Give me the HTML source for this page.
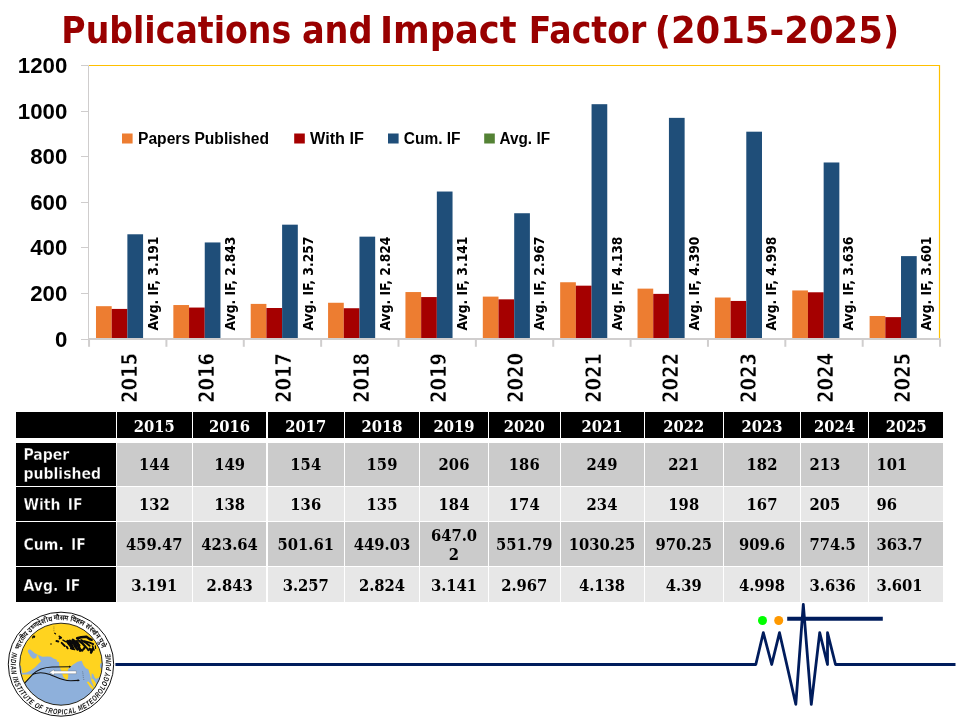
<!DOCTYPE html>
<html lang="en"><head><meta charset="utf-8"><title>Publications and Impact Factor (2015-2025)</title>
<style>
html,body{margin:0;padding:0;background:#fff}
body{width:960px;height:720px;position:relative;overflow:hidden}
svg{position:absolute;left:0;top:0}
.c{position:absolute;display:flex;align-items:center;justify-content:center;box-sizing:border-box;font:bold 16.4px/19px 'DejaVu Serif Condensed','DejaVu Serif',serif;color:#000;text-align:center}
.h{background:#000;color:#fff;padding-top:2px}
.a{background:#cbcbcb}
.b{background:#e7e7e7}
.r{background:#000;color:#fff;justify-content:flex-start;text-align:left;padding-left:7.1px;font:bold 15.6px/19px 'DejaVu Sans Condensed','DejaVu Sans',sans-serif;word-spacing:2.4px;-webkit-text-stroke:0.3px #000}
.l{justify-content:flex-start;text-align:left}

</style></head><body>
<svg width="960" height="720" viewBox="0 0 960 720" role="img" aria-label="Publications and Impact Factor chart">
<text font-family="'DejaVu Sans Condensed','DejaVu Sans',sans-serif" font-weight="bold" font-size="37.6" fill="#990000" transform="translate(0 42.5) scale(1 1.0005)"><tspan x="61.32" textLength="229.90" lengthAdjust="spacingAndGlyphs">Publications</tspan> <tspan x="301.90" textLength="70.70" lengthAdjust="spacingAndGlyphs">and</tspan> <tspan x="380.02" textLength="136.57" lengthAdjust="spacingAndGlyphs">Impact</tspan> <tspan x="528.85" textLength="117.47" lengthAdjust="spacingAndGlyphs">Factor</tspan> <tspan x="654.69" textLength="244.43" lengthAdjust="spacingAndGlyphs">(2015-2025)</tspan></text>
<g stroke="#cfcdcd" stroke-width="1" fill="none">
<path d="M88.5 65.5V339"/>
<path d="M81 65.5H88.5"/>
<path d="M81 111.5H88.5"/>
<path d="M81 156.5H88.5"/>
<path d="M81 202.5H88.5"/>
<path d="M81 247.5H88.5"/>
<path d="M81 293.5H88.5"/>
<path d="M81 339.5H88.5"/>
</g>
<g stroke="#ffc000" stroke-width="1.2" fill="none"><path d="M89 65.5H939.5V338"/></g>
<g stroke="#d0cece" stroke-width="2" fill="none"><path d="M88 339H940.6"/>
<path d="M89.05 339V346.8"/>
<path d="M166.41 339V346.8"/>
<path d="M243.78 339V346.8"/>
<path d="M321.14 339V346.8"/>
<path d="M398.50 339V346.8"/>
<path d="M475.87 339V346.8"/>
<path d="M553.23 339V346.8"/>
<path d="M630.60 339V346.8"/>
<path d="M707.96 339V346.8"/>
<path d="M785.32 339V346.8"/>
<path d="M862.69 339V346.8"/>
<path d="M940.05 339V346.8"/>
</g>
<rect x="95.98" y="306.18" width="15.70" height="31.82" fill="#ed7d31"/>
<rect x="111.68" y="308.92" width="15.70" height="29.08" fill="#a50000"/>
<rect x="127.38" y="234.28" width="15.70" height="103.72" fill="#1f4e79"/>
<rect x="173.35" y="305.04" width="15.70" height="32.96" fill="#ed7d31"/>
<rect x="189.05" y="307.55" width="15.70" height="30.45" fill="#a50000"/>
<rect x="204.75" y="242.45" width="15.70" height="95.55" fill="#1f4e79"/>
<rect x="250.71" y="303.90" width="15.70" height="34.10" fill="#ed7d31"/>
<rect x="266.41" y="308.00" width="15.70" height="30.00" fill="#a50000"/>
<rect x="282.11" y="224.67" width="15.70" height="113.33" fill="#1f4e79"/>
<rect x="328.07" y="302.76" width="15.70" height="35.24" fill="#ed7d31"/>
<rect x="343.77" y="308.23" width="15.70" height="29.77" fill="#a50000"/>
<rect x="359.47" y="236.66" width="15.70" height="101.34" fill="#1f4e79"/>
<rect x="405.44" y="292.05" width="15.70" height="45.95" fill="#ed7d31"/>
<rect x="421.14" y="297.06" width="15.70" height="40.94" fill="#a50000"/>
<rect x="436.84" y="191.53" width="15.70" height="146.47" fill="#1f4e79"/>
<rect x="482.80" y="296.61" width="15.70" height="41.39" fill="#ed7d31"/>
<rect x="498.50" y="299.34" width="15.70" height="38.66" fill="#a50000"/>
<rect x="514.20" y="213.24" width="15.70" height="124.76" fill="#1f4e79"/>
<rect x="560.16" y="282.25" width="15.70" height="55.75" fill="#ed7d31"/>
<rect x="575.86" y="285.67" width="15.70" height="52.33" fill="#a50000"/>
<rect x="591.56" y="104.19" width="15.70" height="233.81" fill="#1f4e79"/>
<rect x="637.53" y="288.63" width="15.70" height="49.37" fill="#ed7d31"/>
<rect x="653.23" y="293.87" width="15.70" height="44.13" fill="#a50000"/>
<rect x="668.93" y="117.86" width="15.70" height="220.14" fill="#1f4e79"/>
<rect x="714.89" y="297.52" width="15.70" height="40.48" fill="#ed7d31"/>
<rect x="730.59" y="300.94" width="15.70" height="37.06" fill="#a50000"/>
<rect x="746.29" y="131.69" width="15.70" height="206.31" fill="#1f4e79"/>
<rect x="792.25" y="290.45" width="15.70" height="47.55" fill="#ed7d31"/>
<rect x="807.95" y="292.28" width="15.70" height="45.72" fill="#a50000"/>
<rect x="823.65" y="162.48" width="15.70" height="175.52" fill="#1f4e79"/>
<rect x="869.62" y="315.98" width="15.70" height="22.02" fill="#ed7d31"/>
<rect x="885.32" y="317.12" width="15.70" height="20.88" fill="#a50000"/>
<rect x="901.02" y="256.11" width="15.70" height="81.89" fill="#1f4e79"/>
<g font-family="'Liberation Sans',sans-serif" font-weight="bold" font-size="21.3" fill="#000" text-anchor="end">
<text transform="translate(67.3 73.10) scale(1.045 1)">1200</text>
<text transform="translate(67.3 118.68) scale(1.045 1)">1000</text>
<text transform="translate(67.3 164.27) scale(1.045 1)">800</text>
<text transform="translate(67.3 209.85) scale(1.045 1)">600</text>
<text transform="translate(67.3 255.43) scale(1.045 1)">400</text>
<text transform="translate(67.3 301.02) scale(1.045 1)">200</text>
<text transform="translate(67.3 346.60) scale(1.045 1)">0</text>
</g>
<g font-family="'Liberation Sans',sans-serif" font-weight="bold" font-size="15.6" fill="#000">
<rect x="122.0" y="133.5" width="10.6" height="10" fill="#ed7d31"/>
<text x="138.0" y="143.8" textLength="131.0" lengthAdjust="spacingAndGlyphs">Papers Published</text>
<rect x="294.2" y="133.5" width="10.6" height="10" fill="#a50000"/>
<text x="310.0" y="143.8" textLength="53.8" lengthAdjust="spacingAndGlyphs">With IF</text>
<rect x="388.0" y="133.5" width="10.6" height="10" fill="#1f4e79"/>
<text x="403.8" y="143.8" textLength="56.8" lengthAdjust="spacingAndGlyphs">Cum. IF</text>
<rect x="484.2" y="133.5" width="10.6" height="10" fill="#548235"/>
<text x="499.5" y="143.8" textLength="50.5" lengthAdjust="spacingAndGlyphs">Avg. IF</text>
</g>
<g font-family="'DejaVu Sans Condensed','DejaVu Sans',sans-serif" font-weight="bold" font-size="13.75" fill="#000">
<text transform="translate(158.00 330.5) rotate(-90) scale(1 1.04)" textLength="93.98" lengthAdjust="spacingAndGlyphs">Avg. IF, 3.191</text>
<text transform="translate(235.27 330.5) rotate(-90) scale(1 1.04)" textLength="93.98" lengthAdjust="spacingAndGlyphs">Avg. IF, 2.843</text>
<text transform="translate(312.54 330.5) rotate(-90) scale(1 1.04)" textLength="93.98" lengthAdjust="spacingAndGlyphs">Avg. IF, 3.257</text>
<text transform="translate(389.81 330.5) rotate(-90) scale(1 1.04)" textLength="93.98" lengthAdjust="spacingAndGlyphs">Avg. IF, 2.824</text>
<text transform="translate(467.08 330.5) rotate(-90) scale(1 1.04)" textLength="93.98" lengthAdjust="spacingAndGlyphs">Avg. IF, 3.141</text>
<text transform="translate(544.35 330.5) rotate(-90) scale(1 1.04)" textLength="93.98" lengthAdjust="spacingAndGlyphs">Avg. IF, 2.967</text>
<text transform="translate(621.62 330.5) rotate(-90) scale(1 1.04)" textLength="93.98" lengthAdjust="spacingAndGlyphs">Avg. IF, 4.138</text>
<text transform="translate(698.90 330.5) rotate(-90) scale(1 1.04)" textLength="93.98" lengthAdjust="spacingAndGlyphs">Avg. IF, 4.390</text>
<text transform="translate(776.17 330.5) rotate(-90) scale(1 1.04)" textLength="93.98" lengthAdjust="spacingAndGlyphs">Avg. IF, 4.998</text>
<text transform="translate(853.44 330.5) rotate(-90) scale(1 1.04)" textLength="93.98" lengthAdjust="spacingAndGlyphs">Avg. IF, 3.636</text>
<text transform="translate(930.71 330.5) rotate(-90) scale(1 1.04)" textLength="93.98" lengthAdjust="spacingAndGlyphs">Avg. IF, 3.601</text>
</g>
<g font-family="'DejaVu Sans Condensed','DejaVu Sans',sans-serif" font-weight="bold" font-size="20" fill="#000" stroke="#fff" stroke-width="0.5">
<text transform="translate(136.60 403.1) rotate(-90) scale(1 1.077)" textLength="50.08" lengthAdjust="spacingAndGlyphs">2015</text>
<text transform="translate(213.96 403.1) rotate(-90) scale(1 1.077)" textLength="50.08" lengthAdjust="spacingAndGlyphs">2016</text>
<text transform="translate(291.33 403.1) rotate(-90) scale(1 1.077)" textLength="50.08" lengthAdjust="spacingAndGlyphs">2017</text>
<text transform="translate(368.69 403.1) rotate(-90) scale(1 1.077)" textLength="50.08" lengthAdjust="spacingAndGlyphs">2018</text>
<text transform="translate(446.05 403.1) rotate(-90) scale(1 1.077)" textLength="50.08" lengthAdjust="spacingAndGlyphs">2019</text>
<text transform="translate(523.42 403.1) rotate(-90) scale(1 1.077)" textLength="50.08" lengthAdjust="spacingAndGlyphs">2020</text>
<text transform="translate(600.78 403.1) rotate(-90) scale(1 1.077)" textLength="50.08" lengthAdjust="spacingAndGlyphs">2021</text>
<text transform="translate(678.15 403.1) rotate(-90) scale(1 1.077)" textLength="50.08" lengthAdjust="spacingAndGlyphs">2022</text>
<text transform="translate(755.51 403.1) rotate(-90) scale(1 1.077)" textLength="50.08" lengthAdjust="spacingAndGlyphs">2023</text>
<text transform="translate(832.87 403.1) rotate(-90) scale(1 1.077)" textLength="50.08" lengthAdjust="spacingAndGlyphs">2024</text>
<text transform="translate(910.24 403.1) rotate(-90) scale(1 1.077)" textLength="50.08" lengthAdjust="spacingAndGlyphs">2025</text>
</g>
</svg>
<div id="tbl"><div class="c r" style="left:16.4px;top:412.4px;width:99.5px;height:26.1px"></div>
<div class="c h" style="left:116.9px;top:412.4px;width:74.8px;height:26.1px">2015</div>
<div class="c h" style="left:192.7px;top:412.4px;width:73.8px;height:26.1px">2016</div>
<div class="c h" style="left:267.5px;top:412.4px;width:76.5px;height:26.1px">2017</div>
<div class="c h" style="left:345.0px;top:412.4px;width:74.0px;height:26.1px">2018</div>
<div class="c h" style="left:420.0px;top:412.4px;width:68.0px;height:26.1px">2019</div>
<div class="c h" style="left:489.0px;top:412.4px;width:70.5px;height:26.1px">2020</div>
<div class="c h" style="left:560.5px;top:412.4px;width:83.0px;height:26.1px">2021</div>
<div class="c h" style="left:644.5px;top:412.4px;width:78.5px;height:26.1px">2022</div>
<div class="c h" style="left:724.0px;top:412.4px;width:76.0px;height:26.1px">2023</div>
<div class="c h" style="left:801.0px;top:412.4px;width:67.0px;height:26.1px">2024</div>
<div class="c h" style="left:869.0px;top:412.4px;width:74.3px;height:26.1px">2025</div>
<div class="c r" style="left:16.4px;top:442.9px;width:99.5px;height:43.2px;padding-top:1.4px">Paper<br>published</div>
<div class="c a" style="left:116.9px;top:442.9px;width:74.8px;height:43.2px">144</div>
<div class="c a" style="left:192.7px;top:442.9px;width:73.8px;height:43.2px">149</div>
<div class="c a" style="left:267.5px;top:442.9px;width:76.5px;height:43.2px">154</div>
<div class="c a" style="left:345.0px;top:442.9px;width:74.0px;height:43.2px">159</div>
<div class="c a" style="left:420.0px;top:442.9px;width:68.0px;height:43.2px">206</div>
<div class="c a" style="left:489.0px;top:442.9px;width:70.5px;height:43.2px">186</div>
<div class="c a" style="left:560.5px;top:442.9px;width:83.0px;height:43.2px">249</div>
<div class="c a" style="left:644.5px;top:442.9px;width:78.5px;height:43.2px">221</div>
<div class="c a" style="left:724.0px;top:442.9px;width:76.0px;height:43.2px">182</div>
<div class="c a l" style="left:801.0px;top:442.9px;width:67.0px;height:43.2px;padding-left:8.6px">213</div>
<div class="c a l" style="left:869.0px;top:442.9px;width:74.3px;height:43.2px;padding-left:7.4px">101</div>
<div class="c r" style="left:16.4px;top:487.2px;width:99.5px;height:33.8px;padding-top:3.0px">With IF</div>
<div class="c b" style="left:116.9px;top:487.2px;width:74.8px;height:33.8px">132</div>
<div class="c b" style="left:192.7px;top:487.2px;width:73.8px;height:33.8px">138</div>
<div class="c b" style="left:267.5px;top:487.2px;width:76.5px;height:33.8px">136</div>
<div class="c b" style="left:345.0px;top:487.2px;width:74.0px;height:33.8px">135</div>
<div class="c b" style="left:420.0px;top:487.2px;width:68.0px;height:33.8px">184</div>
<div class="c b" style="left:489.0px;top:487.2px;width:70.5px;height:33.8px">174</div>
<div class="c b" style="left:560.5px;top:487.2px;width:83.0px;height:33.8px">234</div>
<div class="c b" style="left:644.5px;top:487.2px;width:78.5px;height:33.8px">198</div>
<div class="c b" style="left:724.0px;top:487.2px;width:76.0px;height:33.8px">167</div>
<div class="c b l" style="left:801.0px;top:487.2px;width:67.0px;height:33.8px;padding-left:8.6px">205</div>
<div class="c b l" style="left:869.0px;top:487.2px;width:74.3px;height:33.8px;padding-left:7.4px">96</div>
<div class="c r" style="left:16.4px;top:522.1px;width:99.5px;height:44.4px;padding-top:3.0px">Cum. IF</div>
<div class="c a" style="left:116.9px;top:522.1px;width:74.8px;height:44.4px;padding-top:1.2px">459.47</div>
<div class="c a" style="left:192.7px;top:522.1px;width:73.8px;height:44.4px;padding-top:1.2px">423.64</div>
<div class="c a" style="left:267.5px;top:522.1px;width:76.5px;height:44.4px;padding-top:1.2px">501.61</div>
<div class="c a" style="left:345.0px;top:522.1px;width:74.0px;height:44.4px;padding-top:1.2px">449.03</div>
<div class="c a" style="left:420.0px;top:522.1px;width:68.0px;height:44.4px;padding-top:1.2px">647.0<br>2</div>
<div class="c a" style="left:489.0px;top:522.1px;width:70.5px;height:44.4px;padding-top:1.2px">551.79</div>
<div class="c a" style="left:560.5px;top:522.1px;width:83.0px;height:44.4px;padding-top:1.2px">1030.25</div>
<div class="c a" style="left:644.5px;top:522.1px;width:78.5px;height:44.4px;padding-top:1.2px">970.25</div>
<div class="c a" style="left:724.0px;top:522.1px;width:76.0px;height:44.4px;padding-top:1.2px">909.6</div>
<div class="c a l" style="left:801.0px;top:522.1px;width:67.0px;height:44.4px;padding-left:8.6px;padding-top:1.2px">774.5</div>
<div class="c a l" style="left:869.0px;top:522.1px;width:74.3px;height:44.4px;padding-left:7.4px;padding-top:1.2px">363.7</div>
<div class="c r" style="left:16.4px;top:567.4px;width:99.5px;height:34.4px;padding-top:3.4px">Avg. IF</div>
<div class="c b" style="left:116.9px;top:567.4px;width:74.8px;height:34.4px;padding-top:1.2px">3.191</div>
<div class="c b" style="left:192.7px;top:567.4px;width:73.8px;height:34.4px;padding-top:1.2px">2.843</div>
<div class="c b" style="left:267.5px;top:567.4px;width:76.5px;height:34.4px;padding-top:1.2px">3.257</div>
<div class="c b" style="left:345.0px;top:567.4px;width:74.0px;height:34.4px;padding-top:1.2px">2.824</div>
<div class="c b" style="left:420.0px;top:567.4px;width:68.0px;height:34.4px;padding-top:1.2px">3.141</div>
<div class="c b" style="left:489.0px;top:567.4px;width:70.5px;height:34.4px;padding-top:1.2px">2.967</div>
<div class="c b" style="left:560.5px;top:567.4px;width:83.0px;height:34.4px;padding-top:1.2px">4.138</div>
<div class="c b" style="left:644.5px;top:567.4px;width:78.5px;height:34.4px;padding-top:1.2px">4.39</div>
<div class="c b" style="left:724.0px;top:567.4px;width:76.0px;height:34.4px;padding-top:1.2px">4.998</div>
<div class="c b l" style="left:801.0px;top:567.4px;width:67.0px;height:34.4px;padding-left:8.6px;padding-top:1.2px">3.636</div>
<div class="c b l" style="left:869.0px;top:567.4px;width:74.3px;height:34.4px;padding-left:7.4px;padding-top:1.2px">3.601</div></div>
<svg width="960" height="720" viewBox="0 0 960 720">
<g stroke="#001c5c" fill="none" stroke-linejoin="round">
<path stroke-width="2.8" d="M115.4 664.5H755.8L763.3 632.7 771.7 664.5 779.5 632.7 795.8 704.3 803.3 604.4 811.3 704.3 819.7 632.7 827.5 664.5V632.7L835.5 664.5H955.5"/>
<path stroke-width="4" d="M787.2 618.8H882.8"/>
</g>
<circle cx="762.5" cy="620.5" r="4.5" fill="#00ff00"/><circle cx="778.7" cy="620.5" r="4.5" fill="#ff9900"/>
<defs><clipPath id="disc"><ellipse cx="61.0" cy="664.2" rx="41.3" ry="41"/></clipPath>
<path id="pe" d="M12.13 652.29A50.3 50.3 0 1 0 109.87 652.29"/>
<path id="ph" d="M19.21 649.81A44.2 44.2 0 0 1 102.12 648.00"/>
</defs>
<ellipse cx="61.0" cy="664.2" rx="52.7" ry="52" fill="#fff" stroke="#111" stroke-width="1"/>
<g clip-path="url(#disc)">
<rect x="15" y="620" width="92" height="90" fill="#ffd31f"/>
<path fill="#8eb0db" d="M19 665L21 666 22.2 673 26.5 672.5 30.7 670.6 34.8 667.5 39 663.3 41.1 661.25 39 658.3 37.75 655 36.9 655.4 36.1 657.9 33.2 658.75 30.7 656.7 29.4 654.2 28.2 652.5 27.75 650.4 29.8 649.3 31.9 650.8 34.8 653.3 37.75 654.8 42.3 656.7 47.3 656.5 50.7 656.7 54 658.75 56.5 659.6 57.3 661.7 59 662.1 59.4 666.7 60.7 669.2 63.2 676.7 66.4 680.2 68.3 677 67.9 669.2 70 667.5 72.5 665 77.5 661.7 81.7 660.8 83.3 665 85.8 668.3 88.3 669.2 90 675 90.8 678.3 91.7 681.7 94.2 684.2 95.4 687.5 110 700 110 720 10 720 10 690 24.4 683.3 32.75 674.4 22 674.6 19 674.6Z"/>
<path fill="#8eb0db" d="M91.7 673.3L93.3 674.2 95 678.3 96.7 678.75 100 677 104 677 100 690 95.8 687.5 94.6 684 92.3 681.7 91.5 678Z"/>
<ellipse cx="101.6" cy="665.8" rx="1.7" ry="2.9" fill="#8eb0db"/>
<path fill="#ffd31f" d="M86.7 682L88.5 681.5 94 688 93 690 90 687Z"/><path fill="#ffd31f" d="M91.5 678.5L93.5 679.5 95.8 683 97 688.5 94 687 92.2 682.5Z"/><circle cx="67.4" cy="678.7" r="0.6" fill="#ffd31f"/>
<g stroke="#0a0a0a" fill="none" stroke-linecap="round" stroke-linejoin="round">
<path stroke-width="2.5" d="M77.1 638.2L81.2 637.2L86.5 636.7L89.6 639.0L91.7 639.8"/>
<path stroke-width="2.9" d="M72.9 640.1L77.1 643.2L79.2 647.9L80.2 650.5"/>
<path stroke-width="3.5" d="M67.7 641.6L70.8 644.2L72.4 647.9"/>
<path stroke-width="3.2" d="M69.8 641.1L74.5 643.7L76.0 646.8"/>
<path stroke-width="2.3" d="M78.1 640.1L82.3 643.2L85.4 646.8L83.3 649.4"/>
<path stroke-width="2.0" d="M81.2 640.1L86.5 643.2L89.6 645.8"/>
<path stroke-width="1.9" d="M84.4 641.1L89.6 642.7L93.2 644.2"/>
<path stroke-width="2.5" d="M89.6 648.9L91.7 651.0L92.7 648.9L91.1 652.6"/>
<path stroke-width="1.8" d="M59.4 636.4L61.2 637.7L59.6 638.5"/>
<path stroke-width="1.3" d="M54.7 633.3L55.5 633.8"/>
<path stroke-width="2.0" d="M56.5 641.1L58.3 641.4"/>
<path stroke-width="2.0" d="M61.7 642.9L64.8 646.0"/>
<path stroke-width="1.5" d="M63.0 640.1L65.6 641.6"/>
<path stroke-width="1.8" d="M66.7 646.8L67.7 648.4"/>
<path stroke-width="1.8" d="M70.8 648.4L74.5 649.4"/>
<path stroke-width="2.2" d="M78.1 648.4L82.3 650.5"/>
<path stroke-width="1.2" d="M95.3 645.8L95.6 648.4"/>
<path stroke-width="2.3" d="M74.5 645.5L77.5 649.5"/>
<path stroke-width="1.8" d="M86.5 647.5L88.3 650.2"/>
<path stroke-width="2.6" d="M68.5 643.5L71.5 647.0"/>
<path stroke-width="2.0" d="M76.5 641.0L79.5 645.5"/>
<path stroke-width="1.5" d="M92.5 646.0L94.0 650.0"/>
</g>
<g fill="#0a0a0a"><circle cx="51" cy="644" r="0.8"/><path d="M32.4 636.2l1.6-.9 1.3 1-.6 1.6-1.2-.3-.5 1.2-1-.9z"/></g>
<path d="M53.9 626.5v5.6" stroke="#222" stroke-width="0.4" stroke-dasharray="1 0.8" fill="none"/>
<path d="M82.6 671.5l.5 3.2.3 3 .6 2.8" stroke="#333" stroke-width="0.45" stroke-dasharray="0.9 1" fill="none"/>
<g stroke="#111" stroke-width="1.1" fill="none"><path d="M24.4 683.3L32.75 674.3C38 669.2 44 667.3 52 667L70.2 666.7"/><path d="M32.75 674.3C38 672 44 672.4 50 674.4C56 676.9 62 680.5 70.8 680.8L78.8 680.4"/></g>
<path fill="#111" d="M71.3 666.7l-2.2-1.1v2.2zM79.9 680.4l-2.2-1.1v2.2z"/>
<path fill="#fff" stroke="#444" stroke-width="0.3" d="M49.4 672.4L54 669.6V671H76.3V673.7H54V675.1Z"/>
</g>
<ellipse cx="61.0" cy="664.2" rx="41.3" ry="41" fill="none" stroke="#111" stroke-width="0.9"/>
<text font-family="'Liberation Sans',sans-serif" font-weight="bold" font-style="italic" font-size="7.6" letter-spacing="0.9" fill="#111"><textPath href="#pe" textLength="181" lengthAdjust="spacingAndGlyphs">INDIAN INSTITUTE OF TROPICAL METEOROLOGY PUNE</textPath></text>
<text font-family="'Liberation Serif','Noto Serif CJK SC',serif" font-weight="bold" font-size="7" fill="#111"><textPath href="#ph" textLength="107" lengthAdjust="spacingAndGlyphs">भारतीय उष्णदेशीय मौसम विज्ञान संस्थान पुणे</textPath></text>
</svg>
</body></html>
